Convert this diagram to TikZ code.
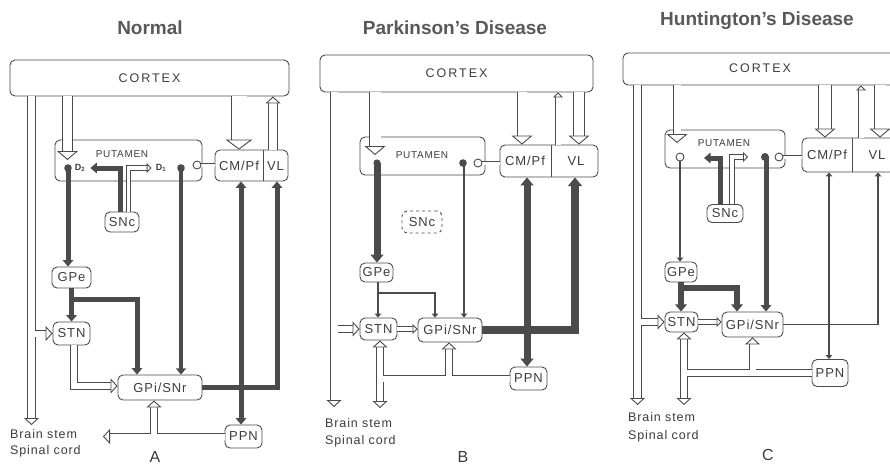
\documentclass[tikz,border=0pt]{standalone}
\usepackage{fontspec}
\setmainfont{Liberation Sans}
\newfontfamily\lblf[LetterSpace=7]{Liberation Sans}
\newfontfamily\cxf[LetterSpace=16]{Liberation Sans}
\usetikzlibrary{arrows.meta}
\definecolor{lc}{HTML}{4A4A4A}
\definecolor{dc}{HTML}{4B4B4B}
\definecolor{tc}{HTML}{3C3C3C}
\tikzset{
  bx/.style={draw=lc, line width=0.9pt, rounded corners=5pt, inner sep=0pt, text=tc, font=\lblf\fontsize{13}{15}\selectfont},
  cx/.style={bx, font=\cxf\fontsize{12.5}{14}\selectfont},
  cxt/.style={inner sep=0pt, text=tc, font=\cxf\fontsize{12.5}{14}\selectfont},
  plain/.style={inner sep=0pt, text=tc, font=\lblf\fontsize{13}{15}\selectfont},
  putl/.style={inner sep=0pt, text=tc, font=\lblf\fontsize{10}{12}\selectfont},
  dl/.style={inner sep=0pt, text=tc, font=\fontsize{9}{10}\selectfont\bfseries},
  ttl/.style={anchor=base, inner sep=0pt, text=tc!85, font=\bfseries\fontsize{19}{22}\selectfont},
  bsl/.style={anchor=base west, inner sep=0pt, text=tc, font=\lblf\fontsize{12.5}{14}\selectfont},
  pl/.style={anchor=base, inner sep=0pt, text=tc, font=\fontsize{16}{18}\selectfont},
  hol/.style={draw=lc, line width=0.9pt, double=white, double distance=#1},
  dk/.style={draw=dc, line width=#1},
  Dt/.tip={Triangle[length=3pt 0.7, width=5pt 1.1]},
  Hs/.tip={Triangle[fill=white, line width=0.9pt, length=5pt, width=10pt]},
  Hm/.tip={Triangle[fill=white, line width=0.9pt, length=7pt, width=15pt]},
  Hl/.tip={Triangle[fill=white, line width=0.9pt, length=9pt, width=21pt]},
  Hx/.tip={Triangle[fill=white, line width=0.9pt, length=10pt, width=27pt]},
}
\begin{document}
\begin{tikzpicture}[x=1pt,y=-1pt]
\useasboundingbox (0,0) rectangle (890,467);
% ================= PANEL A =================
\node[ttl] (tA) at (150,34) {Normal};
\node[cx, minimum width=279pt, minimum height=36pt] (cxA) at (149.5,78) {CORTEX};
\node[bx, minimum width=147pt, minimum height=41pt] (putA) at (128.5,160.5) {};
\node[putl] (plA) at (122,154) {PUTAMEN};
\node[dl] (d2A) at (80,168) {D\textsubscript{2}};
\node[dl] (d1A) at (161,168) {D\textsubscript{1}};
\node[bx, minimum width=34pt, minimum height=20pt] (snA) at (122,222) {SNc};
\node[bx, minimum width=73pt, minimum height=31pt] (thA) at (251.5,165.5) {};
\node[plain] (cmA) at (239,166) {CM/Pf};
\node[plain] (vlA) at (275.5,166) {VL};
\draw[lc, line width=0.7pt] (263,0 |- thA.north) -- (263,0 |- thA.south);
\node[bx, minimum width=39pt, minimum height=21pt] (gpeA) at (71.5,277.5) {GPe};
\node[bx, minimum width=37pt, minimum height=23pt] (stnA) at (71.5,333.5) {STN};
\node[bx, minimum width=84pt, minimum height=25pt] (gpiA) at (160,387.5) {GPi/SNr};
\node[bx, minimum width=37pt, minimum height=23pt] (ppnA) at (243.5,436.5) {PPN};
\node[bsl] (bsA) at (10,438) {Brain stem};
\node[bsl] (scA) at (10,454) {Spinal cord};
\node[pl] (lA) at (155,462) {A};
\coordinate (eA1) at (31.5,425);
\coordinate (eA2) at (67.5,160);
\coordinate (eA3) at (103,436.5);
% hollow
\draw[hol=7pt,-Hm] (31.5,0 |- cxA.south) -- (eA1);
\draw[hol=6pt,-Hm] (35,0 |- stnA.west) -- (stnA.west);
\draw[hol=9pt,-Hl] (67.5,0 |- cxA.south) -- (eA2);
\draw[hol=15pt,-Hx] (239,0 |- cxA.south) -- (239,0 |- thA.north);
\draw[hol=8pt,-Hm] (273,0 |- thA.north) -- (273,0 |- cxA.south);
\draw[hol=3pt] (thA.west |- 0,165) -- (201,165);
\draw[lc,line width=0.9pt] (197,165) circle (4);
\draw[dk=5pt,-Dt] (120,0 |- snA.north) -- (120,168) -- ([xshift=5pt]d2A.east);
\draw[hol=3.5pt,-Hs] (128.5,0 |- snA.north) -- (128.5,168) -- ([xshift=-4pt]d1A.west);
\draw[hol=6pt,-Hm] (74,0 |- stnA.south) -- (74,386) -- (gpiA.west |- 0,386);
\draw[hol=6pt,-Hm] (ppnA.west) -- (eA3);
\draw[hol=6pt,-Hm] (154,433.5) -- (154,0 |- gpiA.south);
% dark
\fill[dc] (68,168) circle (3.8);
\draw[dk=5pt,-Dt] (68,168) -- (68,0 |- gpeA.north);
\draw[dk=5pt,-Dt] (gpeA.south) -- (stnA.north);
\draw[dk=5pt,-Dt] (71.5,299) -- (137,299) -- (137,0 |- gpiA.north);
\fill[dc] (181,168) circle (3.8);
\draw[dk=4.5pt,-Dt] (181,168) -- (181,0 |- gpiA.north);
\draw[dk=5pt,-Dt] (gpiA.east) -- (277,0 |- gpiA.east) -- (277,0 |- thA.south);
\draw[dk=5pt,Dt-Dt] (241,0 |- thA.south) -- (241,0 |- ppnA.north);
% ================= PANEL B =================
\node[ttl] (tB) at (455,34) {Parkinson's Disease};
\node[cx, minimum width=273pt, minimum height=37pt] (cxB) at (456.5,73.5) {CORTEX};
\node[bx, minimum width=125pt, minimum height=38pt] (putB) at (422.5,156) {};
\node[putl] (plB) at (422,155) {PUTAMEN};
\node[bx, dashed, minimum width=40pt, minimum height=22pt] (snB) at (422,222) {SNc};
\node[bx, minimum width=98pt, minimum height=32pt] (thB) at (549,161) {};
\node[plain] (cmB) at (525,161) {CM/Pf};
\node[plain] (vlB) at (576,161) {VL};
\draw[lc, line width=0.7pt] (551,0 |- thB.north) -- (551,0 |- thB.south);
\node[bx, minimum width=33pt, minimum height=19pt] (gpeB) at (376.5,272.5) {GPe};
\node[bx, minimum width=37pt, minimum height=22pt] (stnB) at (378.5,329) {STN};
\node[bx, minimum width=64pt, minimum height=24pt] (gpiB) at (450,330) {GPi/SNr};
\node[bx, minimum width=37pt, minimum height=23pt] (ppnB) at (528.5,378.5) {PPN};
\node[bsl] (bsB) at (325,427) {Brain stem};
\node[bsl] (scB) at (325,444) {Spinal cord};
\node[pl] (lB) at (463,462) {B};
\coordinate (eB1) at (334,407);
\coordinate (eB2) at (375,155);
\coordinate (eB3) at (380,408);
% hollow
\draw[hol=7pt,-Hm] (334,0 |- cxB.south) -- (eB1);
\draw[hol=6pt,-Hm] (337.5,0 |- stnB.west) -- (stnB.west);
\draw[hol=11pt,-Hl] (375,0 |- cxB.south) -- (eB2);
\draw[hol=9pt,-Hl] (522,0 |- cxB.south) -- (522,0 |- thB.north);
\draw[hol=5pt,-Hs] (558,0 |- thB.north) -- (558,0 |- cxB.south);
\draw[hol=10pt,-Hl] (579,0 |- cxB.south) -- (579,0 |- thB.north);
\draw[hol=3pt] (thB.west |- 0,163) -- (482,163);
\draw[lc,line width=0.9pt] (478,163) circle (4);
\draw[hol=4pt,-Hs] (stnB.east) -- (gpiB.west |- stnB.east);
\draw[hol=6pt,Hm-Hm] (380,0 |- stnB.south) -- (eB3);
\draw[hol=6pt] (ppnB.west) -- (383,0 |- ppnB.west);
\draw[hol=6pt,-Hm] (449,375.5) -- (449,0 |- gpiB.south);
% dark
\fill[dc] (377,163) circle (3.6);
\draw[dk=7pt,-Dt] (377,163) -- (377,0 |- gpeB.north);
\fill[dc] (463,163) circle (3.8);
\draw[dk=1.2pt,-Dt] (464,163) -- (464,0 |- gpiB.north);
\draw[dk=1.2pt,-Dt] (378,0 |- gpeB.south) -- (378,0 |- stnB.north);
\draw[dk=1.2pt,-Dt] (378,293) -- (435,293) -- (435,0 |- gpiB.north);
\draw[dk=8pt,-Dt] (gpiB.east) -- (575,0 |- gpiB.east) -- (575,0 |- thB.south);
\draw[dk=7pt,Dt-Dt] (527,0 |- thB.south) -- (527,0 |- ppnB.north);
% ================= PANEL C =================
\node[ttl] (tC) at (757,25) {Huntington's Disease};
\node[bx, minimum width=282pt, minimum height=32pt] (cxC) at (764,69) {};
\node[cxt] (cxlC) at (760,68) {CORTEX};
\node[bx, minimum width=120pt, minimum height=38pt] (putC) at (725,149) {};
\node[putl] (plC) at (724,143) {PUTAMEN};
\node[bx, minimum width=36pt, minimum height=18pt] (snC) at (725,213.5) {SNc};
\node[bx, minimum width=100pt, minimum height=34pt] (thC) at (852,155) {};
\node[plain] (cmC) at (827,155) {CM/Pf};
\node[plain] (vlC) at (877,155) {VL};
\draw[lc, line width=0.7pt] (852,0 |- thC.north) -- (852,0 |- thC.south);
\node[bx, minimum width=32pt, minimum height=20pt] (gpeC) at (681,272) {GPe};
\node[bx, minimum width=33pt, minimum height=20pt] (stnC) at (681.5,322) {STN};
\node[bx, minimum width=61pt, minimum height=25pt] (gpiC) at (752.5,324.5) {GPi/SNr};
\node[bx, minimum width=36pt, minimum height=27pt] (ppnC) at (830,373) {PPN};
\node[bsl] (bsC) at (628,421) {Brain stem};
\node[bsl] (scC) at (628,439) {Spinal cord};
\node[pl] (lC) at (768,460) {C};
\coordinate (eC1) at (637.5,405);
\coordinate (eC2) at (677,143);
\coordinate (eC3) at (684,405);
\coordinate (eC4) at (704,158);
\coordinate (eC5) at (748,157);
% hollow
\draw[hol=7pt,-Hm] (637.5,0 |- cxC.south) -- (eC1);
\draw[hol=6pt,-Hm] (641,0 |- stnC.west) -- (stnC.west);
\draw[hol=7pt,-Hl] (677,0 |- cxC.south) -- (eC2);
\draw[hol=12pt,-Hl] (825,0 |- cxC.south) -- (825,0 |- thC.north);
\draw[hol=5pt,-Hs] (861,0 |- thC.north) -- (861,0 |- cxC.south);
\draw[hol=11pt,-Hl] (880,0 |- cxC.south) -- (880,0 |- thC.north);
\draw[hol=3pt] (thC.west |- 0,157) -- (783,157);
\draw[lc,line width=0.9pt] (779,157) circle (4);
\draw[lc,line width=0.9pt] (680,157) circle (4);
\draw[dk=5pt,-Dt] (720,0 |- snC.north) -- (720,158) -- (eC4);
\draw[hol=3.5pt,-Hs] (732,0 |- snC.north) -- (732,157) -- (eC5);
\draw[hol=4pt,-Hs] (stnC.east) -- (gpiC.west |- stnC.east);
\draw[hol=6pt,Hm-Hm] (684,0 |- stnC.south) -- (eC3);
\draw[hol=6pt] (ppnC.west) -- (687,0 |- ppnC.west);
\draw[hol=6pt,-Hm] (752.5,370) -- (752.5,0 |- gpiC.south);
% dark
\draw[dk=1.2pt,-Dt] (680,161) -- (680,0 |- gpeC.north);
\draw[dk=6pt,-Dt] (681,0 |- gpeC.south) -- (681,0 |- stnC.north);
\draw[dk=6pt,-Dt] (681,288) -- (737,288) -- (737,0 |- gpiC.north);
\fill[dc] (765,157) circle (4);
\draw[dk=5pt,-Dt] (766,157) -- (766,0 |- gpiC.north);
\draw[dk=1.2pt,-Dt] (gpiC.east) -- (878,0 |- gpiC.east) -- (878,0 |- thC.south);
\draw[dk=1.2pt,Dt-Dt] (829,0 |- thC.south) -- (829,0 |- ppnC.north);
\end{tikzpicture}
\end{document}
